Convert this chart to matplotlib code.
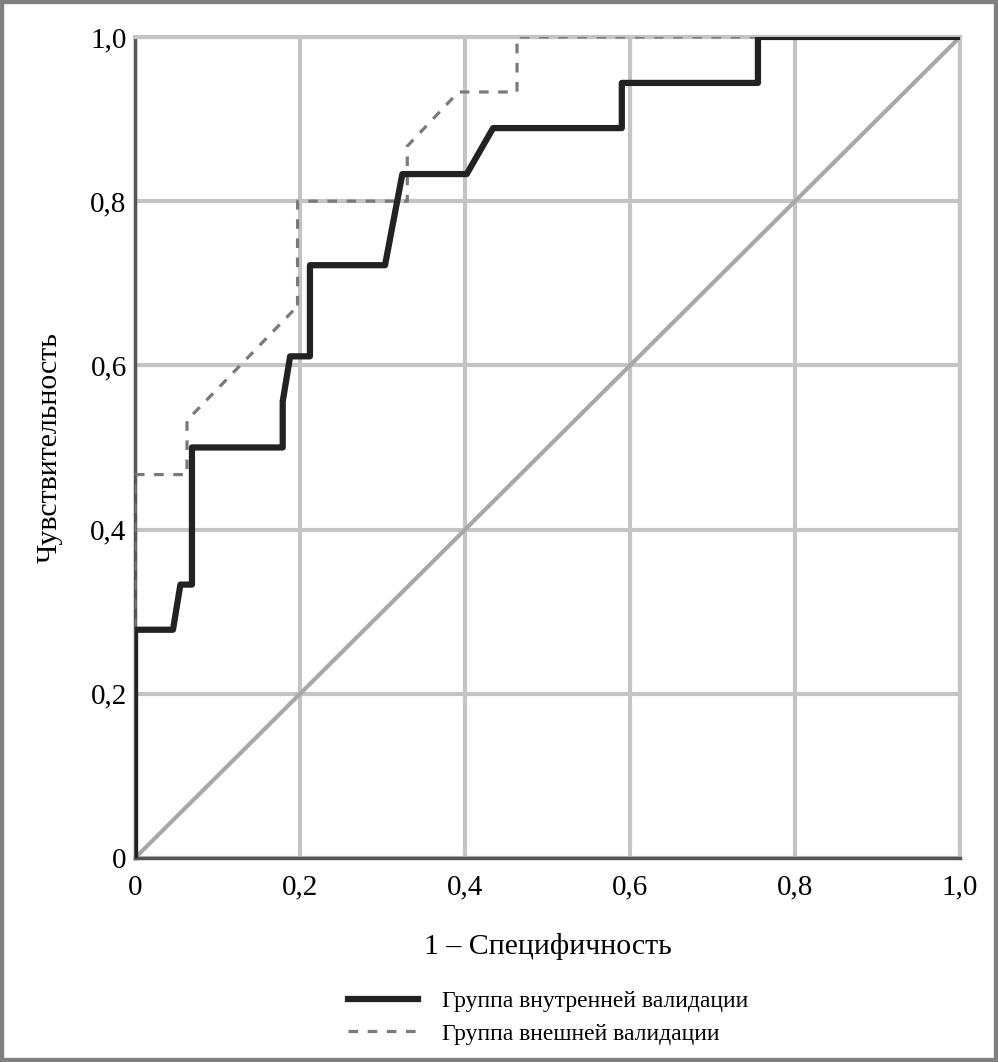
import matplotlib
matplotlib.use("Agg")
import matplotlib.pyplot as plt
from matplotlib.patches import Rectangle

# ROC curve points
internal_fpr = [0, 0, 0.046, 0.055, 0.069, 0.069, 0.179, 0.179, 0.188, 0.212, 0.212,
                0.303, 0.324, 0.402, 0.434, 0.59, 0.59, 0.755, 0.755, 1.0]
internal_tpr = [0, 0.278, 0.278, 0.333, 0.333, 0.5, 0.5, 0.556, 0.611, 0.611, 0.722,
                0.722, 0.833, 0.833, 0.889, 0.889, 0.944, 0.944, 1.0, 1.0]

external_fpr = [0, 0, 0.063, 0.063, 0.192, 0.197, 0.197, 0.33, 0.33, 0.392, 0.463, 0.463, 1.0]
external_tpr = [0, 0.467, 0.467, 0.533, 0.667, 0.667, 0.8, 0.8, 0.867, 0.933, 0.933, 1.0, 1.0]

ticks = [0, 0.2, 0.4, 0.6, 0.8, 1.0]
tick_labels = ["0", "0,2", "0,4", "0,6", "0,8", "1,0"]

plt.rcParams["font.family"] = ["Liberation Serif", "DejaVu Serif"]

fig = plt.figure(figsize=(9.98, 10.62), dpi=100)
ax = fig.add_axes([0.1353, 0.1921, 0.8267, 0.7731])

ax.plot([0, 1], [0, 1], color="#a8a8a8", lw=3, zorder=2)
ax.plot(external_fpr, external_tpr, color="#7a7a7a", lw=2.3, ls=(0, (3, 3)),
        label="Группа внешней валидации", zorder=3)
ax.plot(internal_fpr, internal_tpr, color="#222222", lw=4.5,
        label="Группа внутренней валидации", zorder=4)

ax.set_xlim(0, 1.0)
ax.set_ylim(0, 1.0)
ax.set_xticks(ticks)
ax.set_xticklabels(tick_labels)
ax.set_yticks(ticks)
ax.set_yticklabels(tick_labels)
ax.tick_params(length=0, labelsize=21)
ax.tick_params(axis="x", pad=12)
ax.tick_params(axis="y", pad=6)
ax.grid(True, color="#c4c4c4", lw=3, zorder=1)

for side in ["top", "right"]:
    ax.spines[side].set_color("#c4c4c4")
    ax.spines[side].set_linewidth(3)
for side in ["left", "bottom"]:
    ax.spines[side].set_color("#555555")
    ax.spines[side].set_linewidth(2.5)

ax.set_xlabel("1 – Специфичность", fontsize=21.5, labelpad=23)
ax.set_ylabel("Чувствительность", fontsize=21.5, labelpad=20)

handles, labels = ax.get_legend_handles_labels()
fig.legend(handles[::-1], labels[::-1], loc="upper left",
           bbox_to_anchor=(0.327, 0.087), frameon=False, fontsize=17,
           handlelength=3.0, handletextpad=1.0, labelspacing=0.45)

fig.patches.append(Rectangle((0, 0), 1, 1, transform=fig.transFigure,
                             fill=False, edgecolor="#808080", lw=6))

fig.savefig("out.png", dpi=100)
